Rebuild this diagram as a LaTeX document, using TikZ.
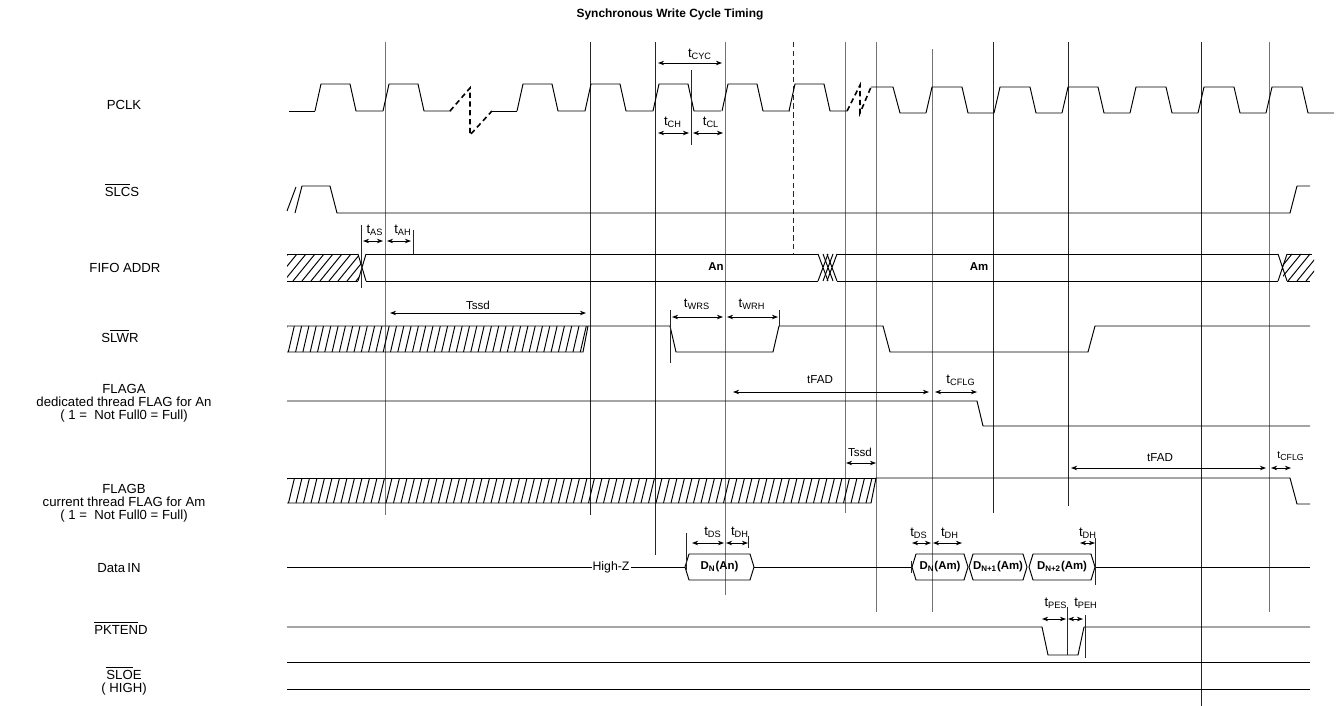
\documentclass[tikz,border=0pt]{standalone}
\usepackage{fontspec}
\setmainfont{Liberation Sans}
\usetikzlibrary{arrows.meta}
\newcommand\tm[1]{t\textsubscript{#1}}
\newcommand\ovl[1]{$\overline{\mbox{#1}}$}

\begin{document}
\begin{tikzpicture}[x=0.02cm,y=-0.02cm,
  sig/.style={line width=0.55pt, line join=round},
  guide/.style={line width=0.5pt, black!85},
  gguide/.style={line width=0.55pt, black!55},
  dim/.style={{Stealth[length=3.5pt,width=2.6pt]}-{Stealth[length=3.5pt,width=2.6pt]}, line width=0.5pt},
  lbl/.style={font=\fontsize{7.5}{7.4}\selectfont, align=center, inner sep=0pt},
  tlbl/.style={font=\fontsize{7.5}{8}\selectfont, inner sep=0pt},
  plbl/.style={font=\fontsize{6.6}{8}\selectfont, inner sep=0pt},
  val/.style={font=\bfseries\fontsize{6.5}{7}\selectfont, inner sep=0pt},
  brk/.style={line width=0.9pt, dash pattern=on 3pt off 2pt}]
\useasboundingbox (0,0) rectangle (1338,706);

\node[font=\bfseries\fontsize{6.8}{9}\selectfont] (title) at (670,14) {Synchronous Write Cycle Timing};

% signal names
\node[lbl] (pclk) at (124,105) {PCLK};
\node[lbl] (slcs) at (122,190) {\ovl{SLC}S};
\node[lbl] (addr) at (125,268) {FIFO ADDR};
\node[lbl] (slwr) at (120,336) {S\ovl{LW}R};
\node[lbl] (flaga) at (124,403) {FLAGA\\dedicated thread FLAG for An\\( 1 =\ \ Not Full0 = Full)};
\node[lbl] (flagb) at (124,503) {FLAGB\\current thread FLAG for Am\\( 1 =\ \ Not Full0 = Full)};
\node[lbl] (datain) at (119,568) {Data\,IN};
\node[lbl] (pktend) at (121,628) {\ovl{PKTEN}D};
\node[lbl, align=center] (sloe) at (124,681) {\ovl{SLO}E\\( HIGH)};

% guide lines
\foreach \x/\ya/\yb in {590/42/515, 655/42/555, 993/42/513, 1068/42/506, 1201/42/706}
  \draw[guide] (\x,\ya) -- (\x,\yb);
\foreach \x/\ya/\yb in {385/42/515, 725/42/595, 845/42/513, 876/42/612, 932/49/612, 1269/42/612}
  \draw[gguide] (\x,\ya) -- (\x,\yb);
\draw[guide, densely dashed] (793,42) -- (793,254);

% PCLK
\draw[sig] (289,111) -- (315,111);
\foreach \r in {315,383,517,585,653,722}
  \draw[sig] (\r,111) -- ++(6,-27) -- ++(29,0) -- ++(6,27) -- ++(27,0);
\draw[sig] (492,111) -- (517,111);
\draw[sig] (789,111) -- ++(6,-27) -- ++(29,0) -- ++(6,27) -- (847,111);
\draw[brk] (450,111) -- (470,88) -- (470,135) -- (492,111);
\draw[brk] (847,111) -- (860,85) -- (860,113) -- (871,87);
\draw[sig] (871,87) -- (893,87) -- (900,113) -- (926,113);
\foreach \r in {926,994,1062,1130,1198,1266}
  \draw[sig] (\r,113) -- ++(6,-26) -- ++(30,0) -- ++(6,26) -- ++(26,0);
\draw[guide] (691,70) -- (691,145);
\node[tlbl] (tcyc) at (700,54) {\tm{CYC}};
\draw[dim] (658,63) -- (722,63);
\node[tlbl] (tch) at (673,122) {\tm{CH}};
\draw[dim] (658,133) -- (689,133);
\node[tlbl] (tcl) at (711,122) {\tm{CL}};
\draw[dim] (693,133) -- (723,133);

% SLCS
\draw[sig] (287,211) -- (296,187);
\draw[sig] (295,213) -- (302,186) -- (330,186) -- (337,213) -- (1290,213) -- (1297,186) -- (1310,186);

% FIFO ADDR
\begin{scope}
  \clip (287,254) -- (358,254) -- (362,267) -- (358,281) -- (287,281) -- cycle;
  \foreach \x in {266,275,...,362} \draw[sig] (\x,281) -- ++(22,-27);
\end{scope}
\draw[sig] (287,254) -- (358,254) (287,281) -- (358,281);
\draw[sig] (358,254) -- (366,281) (358,281) -- (366,254);
\draw[sig] (366,254) -- (818,254) (366,281) -- (818,281);
\foreach \x in {818,823,827}
  \draw[sig] (\x,254) -- ++(10,27) (\x,281) -- ++(10,-27);
\draw[sig] (837,254) -- (1278,254) (837,281) -- (1278,281);
\draw[sig] (1278,254) -- (1287,281) (1278,281) -- (1287,254);
\begin{scope}
  \clip (1283,250) -- (1314,250) -- (1314,281) -- (1283,281) -- cycle;
  \foreach \x in {1270,1279,...,1314} \draw[sig] (\x,281) -- ++(22,-27);
\end{scope}
\draw[sig] (1287,254) -- (1312,254) (1287,281) -- (1310,281);
\node[val] (an) at (716,267) {An};
\node[val] (am) at (979,267) {Am};
\draw[guide] (361,225) -- (361,288);
\draw[guide] (413,230) -- (413,254);
\node[tlbl] (tas) at (375,230) {\tm{AS}};
\draw[dim] (363,241) -- (383,241);
\node[tlbl] (tah) at (403,230) {\tm{AH}};
\draw[dim] (387,241) -- (411,241);

% SLWR
\begin{scope}
  \clip (287,326) -- (588,326) -- (583,352) -- (287,352) -- cycle;
  \foreach \x in {281,288.3,...,592} \draw[sig] (\x,352) -- ++(6,-26);
\end{scope}
\draw[sig] (287,326) -- (588,326) -- (583,352) -- (287,352);
\draw[sig] (588,326) -- (670,326) -- (676,352) -- (773,352) -- (779,326) -- (883,326)
  -- (890,352) -- (1088,352) -- (1095,326) -- (1310,326);
\node[plbl] (tssd) at (478,305) {Tssd};
\draw[dim] (390,313) -- (586,313);
\draw[guide] (670,310) -- (670,363);
\draw[guide] (779,310) -- (779,326);
\node[tlbl] (twrs) at (697,304) {\tm{WRS}};
\draw[dim] (672,317) -- (723,317);
\node[tlbl] (twrh) at (752,304) {\tm{WRH}};
\draw[dim] (727,317) -- (778,317);

% FLAGA
\draw[sig] (287,401) -- (977,401) -- (983,426) -- (1310,426);
\node[plbl] (tfada) at (820,380) {tFAD};
\draw[dim] (733,392) -- (929,392);
\node[tlbl] (tcflga) at (961,380) {\tm{CFLG}};
\draw[dim] (935,392) -- (977,392);

% FLAGB
\begin{scope}
  \clip (287,478) -- (876,478) -- (871,503) -- (287,503) -- cycle;
  \foreach \x in {281,288.5,...,880} \draw[sig] (\x,503) -- ++(6,-25);
\end{scope}
\draw[sig] (287,503) -- (871,503) -- (876,478) -- (1290,478) -- (1297,504) -- (1310,504);
\draw[sig] (287,478) -- (876,478);
\node[plbl] (tssdb) at (860,452) {Tssd};
\draw[dim] (846,463) -- (876,463);
\node[plbl] (tfadb) at (1160,458) {tFAD};
\draw[dim] (1071,468) -- (1266,468);
\node[tlbl, font=\fontsize{6}{7}\selectfont] (tcflgb) at (1291,456) {\tm{CFLG}};
\draw[dim] (1271,468) -- (1291,468);

% DataIN
\draw[sig] (287,567) -- (592,567) (631,567) -- (685,567);
\node[plbl, font=\fontsize{7}{8}\selectfont] (hiz) at (611,567) {High-Z};
\foreach \a/\b/\txt [count=\i] in {685/754/{D\textsubscript{N}(An)}, 912/968/{D\textsubscript{N}(Am)},
  969/1027/{D\textsubscript{N+1}(Am)}, 1029/1095/{D\textsubscript{N+2}(Am)}}
{
  \draw[sig] (\a,567) -- (\a+4,554) -- (\b-4,554) -- (\b,567) -- (\b-4,580) -- (\a+4,580) -- cycle;
  \node[val] (d\i) at ({(\a+\b)/2},567) {\txt};
}
\draw[sig] (754,567) -- (912,567) (1095,567) -- (1310,567);
\draw[guide] (911,561) -- (911,573);
\draw[guide] (686,533) -- (686,570);
\draw[guide] (748,536) -- (748,548);
\draw[guide] (1095,538) -- (1095,585);
\node[tlbl] (tdsa) at (713,532) {\tm{DS}};
\draw[dim] (692,543) -- (724,543);
\node[tlbl] (tdha) at (740,532) {\tm{DH}};
\draw[dim] (726,543) -- (748,543);
\node[tlbl] (tdsb) at (919,533) {\tm{DS}};
\draw[dim] (912,543) -- (931,543);
\node[tlbl] (tdhb) at (950,533) {\tm{DH}};
\draw[dim] (933,543) -- (962,543);
\node[tlbl] (tdhc) at (1088,533) {\tm{DH}};
\draw[dim] (1080,543) -- (1095,543);

% PKTEND
\draw[sig] (287,627) -- (1042,627) -- (1048,655) -- (1078,655) -- (1084,627) -- (1310,627);
\draw[guide] (1067,607) -- (1067,655);
\draw[guide] (1085,615) -- (1085,658);
\node[tlbl] (tpes) at (1056,603) {\tm{PES}};
\draw[dim] (1042,619) -- (1066,619);
\node[tlbl] (tpeh) at (1086,603) {\tm{PEH}};
\draw[dim] (1068,619) -- (1083,619);

% SLOE
\draw[sig] (287,662) -- (1310,662) (287,689) -- (1310,689);
\end{tikzpicture}
\end{document}
